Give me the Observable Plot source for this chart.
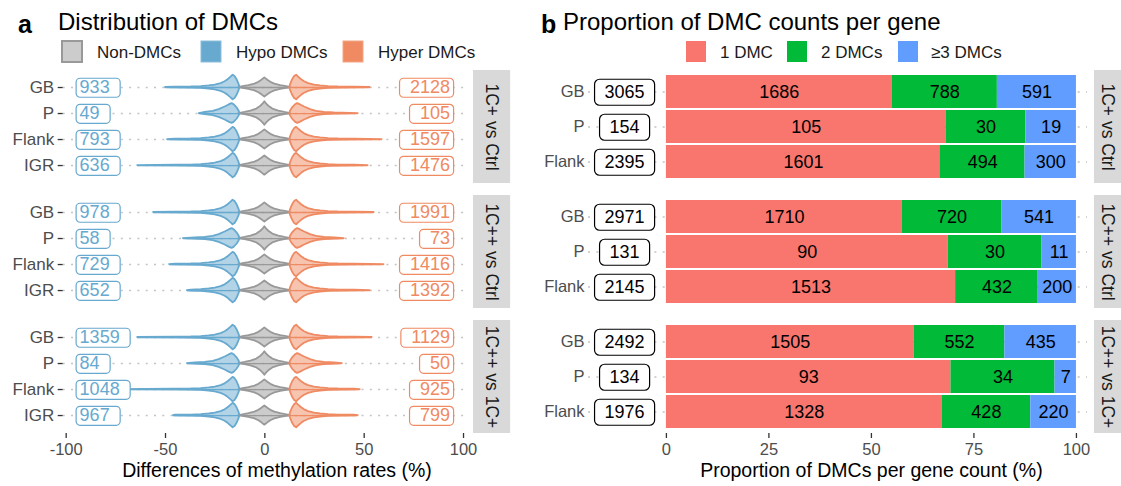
<!DOCTYPE html>
<html><head><meta charset="utf-8">
<script src="https://cdn.jsdelivr.net/npm/d3@7"></script>
<script src="https://cdn.jsdelivr.net/npm/@observablehq/plot@0.6"></script>
<style>
body{margin:0;background:#fff;}
#root{position:relative;width:1121px;height:486px;overflow:hidden;background:#fff;font-family:"Liberation Sans",Arial,sans-serif;}
#root svg{position:absolute;overflow:visible;}
</style></head>
<body><div id="root"></div>
<script>
// ---------- DATA ----------
const comps = ["1C+ vs Ctrl", "1C++ vs Ctrl", "1C++ vs 1C+"];
const rowsA = ["GB", "P", "Flank", "IGR"];
const groupsA = ["Non-DMCs", "Hypo DMCs", "Hyper DMCs"];
const hypoCounts  = [[933, 49, 793, 636], [978, 58, 729, 652], [1359, 84, 1048, 967]];
const hyperCounts = [[2128, 105, 1597, 1476], [1991, 73, 1416, 1392], [1129, 50, 925, 799]];
const hypoMin  = [[-50, -33, -49, -64], [-56, -41, -48, -39], [-64, -39, -75, -46]];
const hyperMax = [[53, 47, 59, 52], [55, 40, 60, 53], [54, 39, 48, 47]];
// violin half-width profiles [difference %, half width in row units]
const nonProfile  = [[-13,0],[-11,0.03],[-8,0.07],[-5,0.13],[-3,0.2],[-1.5,0.28],[0,0.37],[1.5,0.28],[3,0.2],[5,0.13],[8,0.07],[11,0.03],[13,0]];
const nonProfileP = [[-13,0],[-10,0.04],[-7,0.09],[-4,0.17],[-2,0.28],[-0.8,0.37],[0,0.45],[0.8,0.37],[2,0.28],[4,0.17],[7,0.09],[10,0.04],[13,0]];
const hypoProfile  = [[-45,0.012],[-37,0.02],[-32,0.035],[-28,0.06],[-25,0.09],[-22,0.15],[-20,0.22],[-18.5,0.3],[-17,0.4],[-16,0.47],[-15,0.42],[-14,0.3],[-13,0.12],[-12.5,0]];
const hyperProfile = [[12.5,0],[13,0.12],[14,0.3],[15,0.42],[16,0.47],[17,0.4],[18.5,0.3],[20,0.22],[22,0.15],[25,0.09],[28,0.06],[32,0.035],[37,0.02],[45,0.012]];
const hypoProfileP  = [[-35,0.02],[-30,0.04],[-26,0.08],[-23,0.15],[-20,0.25],[-18,0.33],[-16.5,0.38],[-15.5,0.34],[-14,0.22],[-13,0.1],[-12.5,0]];
const hyperProfileP = [[12.5,0],[13,0.1],[14,0.22],[15.5,0.34],[16.5,0.38],[18,0.33],[20,0.25],[23,0.15],[26,0.08],[30,0.04],[35,0.02]];

const rowsB = ["GB", "P", "Flank"];
const catsB = ["1 DMC", "2 DMCs", "≥3 DMCs"];
const one   = [[1686, 105, 1601], [1710, 90, 1513], [1505, 93, 1328]];
const two   = [[788, 30, 494], [720, 30, 432], [552, 34, 428]];
const three = [[591, 19, 300], [541, 11, 200], [435, 7, 220]];
const totalsB = [[3065, 154, 2395], [2971, 131, 2145], [2492, 134, 1976]];

const titleA = "Distribution of DMCs", titleB = "Proportion of DMC counts per gene";
const xLabelA = "Differences of methylation rates (%)", xLabelB = "Proportion of DMCs per gene count (%)";
const xTicksA = [-100, -50, 0, 50, 100], xTicksB = [0, 25, 50, 75, 100];

const colHypo = "#67A9CF", colHyper = "#EF8A62", colNon = "#999999";
const colsB = ["#F8766D", "#00BA38", "#619CFF"];
const colTotal = "#010101";
const FONT = '"Liberation Sans", Arial, sans-serif';

// ---------- HEADER ----------
const root = document.getElementById("root");
const head = d3.select(root).append("svg").attr("width", 1121).attr("height", 70)
  .style("left", "0px").style("top", "0px").style("font-family", FONT);
head.append("text").attr("x", 18).attr("y", 33).attr("font-size", 25).attr("font-weight", "bold").text("a");
head.append("text").attr("x", 58).attr("y", 30).attr("font-size", 24).text(titleA);
head.append("text").attr("x", 541).attr("y", 33).attr("font-size", 25).attr("font-weight", "bold").text("b");
head.append("text").attr("x", 563).attr("y", 30).attr("font-size", 24).text(titleB);
const legA = [{x: 62, fill: "#CCCCCC", stroke: "#999999"}, {x: 201, fill: colHypo, stroke: "#8DBFDC"}, {x: 343, fill: colHyper, stroke: "#F3A585"}];
const legAtx = [97, 236, 378];
legA.forEach((s, i) => {
  head.append("rect").attr("x", s.x).attr("y", 41).attr("width", 20).attr("height", 21)
    .attr("fill", s.fill).attr("stroke", s.stroke).attr("stroke-width", i === 0 ? 2 : 1);
  head.append("text").attr("x", legAtx[i]).attr("y", 57.5).attr("font-size", 17).attr("fill", "#1a1a1a").text(groupsA[i]);
});
const legBx = [686, 787, 898], legBtx = [720, 821, 931];
catsB.forEach((c, i) => {
  head.append("rect").attr("x", legBx[i]).attr("y", 41).attr("width", 20).attr("height", 21).attr("fill", colsB[i]);
  head.append("text").attr("x", legBtx[i]).attr("y", 57.5).attr("font-size", 17).attr("fill", "#1a1a1a").text(c);
});

// ---------- PANEL A ----------
const violins = [], spines = [], hypoLab = [], hyperLab = [], dotsA = [];
comps.forEach((comp, ci) => {
  rowsA.forEach((region, ri) => {
    const row = ri + 1, isP = region === "P";
    const lo = hypoMin[ci][ri], hi = hyperMax[ci][ri];
    const hypoPts = [[lo, 0], ...(isP ? hypoProfileP : hypoProfile).filter(p => p[0] > lo)];
    const hyperPts = [...(isP ? hyperProfileP : hyperProfile).filter(p => p[0] < hi), [hi, 0]];
    const nonPts = isP ? nonProfileP : nonProfile;
    [["hypo", hypoPts], ["non", nonPts], ["hyper", hyperPts]].forEach(([g, pts]) =>
      pts.forEach(([x, w]) => violins.push({comp, row, group: g, key: comp + region + g, x, w})));
    spines.push({comp, row, group: "hypo", x1: lo, x2: -12.5});
    spines.push({comp, row, group: "non", x1: -13, x2: 13});
    spines.push({comp, row, group: "hyper", x1: 12.5, x2: hi});
    hypoLab.push({comp, row, n: String(hypoCounts[ci][ri])});
    hyperLab.push({comp, row, n: String(hyperCounts[ci][ri])});
    dotsA.push({comp, row});
  });
});
const strips = comps.map(c => ({comp: c}));
const colorOf = {hypo: colHypo, non: colNon, hyper: colHyper};
const violinMark = g => Plot.areaY(violins.filter(d => d.group === g), {
  x: "x", y1: d => d.row - d.w, y2: d => d.row + d.w, z: "key", fy: "comp",
  fill: colorOf[g], fillOpacity: 0.5, stroke: colorOf[g], strokeWidth: 1.8, strokeLinejoin: "round"
});
const spineMark = g => Plot.ruleY(spines.filter(d => d.group === g), {
  y: "row", x1: "x1", x2: "x2", fy: "comp", stroke: colorOf[g], strokeWidth: 1.3
});

const plotA = Plot.plot({
  width: 530, height: 422,
  marginTop: 6, marginBottom: 53, marginLeft: 62.7, marginRight: 64,
  x: {domain: [-101.5, 101.5]},
  y: {domain: [4.69, 0.346]},
  fy: {domain: comps, paddingInner: 0.096, paddingOuter: 0, axis: null},
  style: {fontFamily: FONT, fontSize: "17px", color: "#4D4D4D", background: "transparent", overflow: "visible"},
  marks: [
    Plot.ruleY(dotsA, {y: "row", fy: "comp", x1: -101.5, x2: 101.5, stroke: "#C4C4C4", strokeWidth: 1.6, strokeDasharray: "2,6.3"}),
    spineMark("non"), spineMark("hypo"), spineMark("hyper"),
    violinMark("non"), violinMark("hypo"), violinMark("hyper"),
    Plot.text(hypoLab, {x: -95, y: "row", fy: "comp", text: "n", textAnchor: "start", dx: 3.5, fill: colHypo, fontSize: 18}),
    Plot.text(hyperLab, {x: 95, y: "row", fy: "comp", text: "n", textAnchor: "end", dx: -3.5, fill: colHyper, fontSize: 18}),
    Plot.rect(strips, {x1: 105, x2: 123.7, fy: "comp", fill: "#D9D9D9"}),
    Plot.text(strips, {x: 114.3, fy: "comp", text: "comp", rotate: 90, fontSize: 17.5, fill: "#1A1A1A", frameAnchor: "middle"}),
    Plot.axisY({ticks: [1, 2, 3, 4], tickFormat: d => rowsA[d - 1], tickSize: 5, tickPadding: 4, fontSize: 17, label: null, stroke: "#333", strokeWidth: 1.3}),
    Plot.axisX({ticks: xTicksA, tickFormat: d => String(d), tickSize: 5, tickPadding: 5, fontSize: 16.5, label: null, stroke: "#333", strokeWidth: 1.3}),
    Plot.text([{comp: comps[2], t: xLabelA}], {x: 6.1, fy: "comp", text: "t", frameAnchor: "bottom", dy: 43, fontSize: 19.5, fill: "#000"})
  ]
});
plotA.style.left = "0px"; plotA.style.top = "64px";
root.appendChild(plotA);

// ---------- PANEL B ----------
const barData = [], totals = [], dotsB = [];
comps.forEach((comp, ci) => {
  rowsB.forEach((region, ri) => {
    const vals = [one[ci][ri], two[ci][ri], three[ci][ri]];
    const tot = totalsB[ci][ri];
    vals.forEach((v, k) => barData.push({comp, region, cat: catsB[k], label: String(v), pct: v / tot * 100}));
    totals.push({comp, region, n: String(tot)});
    dotsB.push({comp, region});
  });
});
const plotB = Plot.plot({
  width: 591, height: 422,
  marginTop: 6, marginBottom: 53, marginLeft: 58, marginRight: 34,
  x: {domain: [-19, 102.7]},
  y: {domain: rowsB, paddingInner: 0.07, paddingOuter: 0.127},
  fy: {domain: comps, paddingInner: 0.096, paddingOuter: 0, axis: null},
  color: {domain: catsB, range: colsB},
  style: {fontFamily: FONT, fontSize: "16.5px", color: "#4D4D4D", background: "transparent", overflow: "visible"},
  marks: [
    Plot.ruleY(dotsB, {y: "region", fy: "comp", x1: -19, x2: 102.7, stroke: "#C4C4C4", strokeWidth: 1.6, strokeDasharray: "2,6.3"}),
    Plot.barX(barData, Plot.stackX({x: "pct", y: "region", fy: "comp", fill: "cat"})),
    Plot.text(barData, Plot.stackX({x: "pct", y: "region", fy: "comp", text: "label", fontSize: 18, fill: "#000"})),
    Plot.text(totals, {x: -10.2, y: "region", fy: "comp", text: "n", fontSize: 18, fill: colTotal}),
    Plot.rect(strips, {x1: 104.4, x2: 112, fy: "comp", fill: "#D9D9D9"}),
    Plot.text(strips, {x: 107.7, fy: "comp", text: "comp", rotate: 90, fontSize: 17.5, fill: "#1A1A1A", frameAnchor: "middle"}),
    Plot.axisY({tickSize: 0, tickPadding: 4, fontSize: 16.5, label: null}),
    Plot.axisX({ticks: xTicksB, tickFormat: d => String(d), tickSize: 5, tickPadding: 5, fontSize: 16.5, label: null, stroke: "#333", strokeWidth: 1.3}),
    Plot.text([{comp: comps[2], t: xLabelB}], {x: 50, fy: "comp", text: "t", frameAnchor: "bottom", dy: 43, fontSize: 19.5, fill: "#000"})
  ]
});
plotB.style.left = "530px"; plotB.style.top = "64px";
root.appendChild(plotB);

// ---------- label boxes (sized from the rendered text) ----------
function addBoxes(svg, fill, padL, padR, h, r, stroke) {
  const groups = Array.from(svg.querySelectorAll("g")).filter(g =>
    (g.getAttribute("fill") || "").toLowerCase() === fill.toLowerCase());
  groups.forEach(g => g.querySelectorAll("text").forEach(t => {
    const b = t.getBBox();
    const rect = document.createElementNS("http://www.w3.org/2000/svg", "rect");
    const cy = b.y + b.height / 2 + 0.5;
    rect.setAttribute("x", b.x - padL);
    rect.setAttribute("y", cy - h / 2);
    rect.setAttribute("width", b.width + padL + padR);
    rect.setAttribute("height", h);
    rect.setAttribute("rx", r);
    rect.setAttribute("fill", "#fff");
    rect.setAttribute("stroke", stroke);
    rect.setAttribute("stroke-width", 1.2);
    const tr = t.getAttribute("transform");
    if (tr) rect.setAttribute("transform", tr);
    t.parentNode.insertBefore(rect, t);
  }));
}
addBoxes(plotA, colHypo, 3.5, 10.5, 19, 4, colHypo);
addBoxes(plotA, colHyper, 10.5, 3.5, 19, 4, colHyper);
addBoxes(plotB, colTotal, 10, 10, 26, 5, "#000");
</script>
</body></html>
